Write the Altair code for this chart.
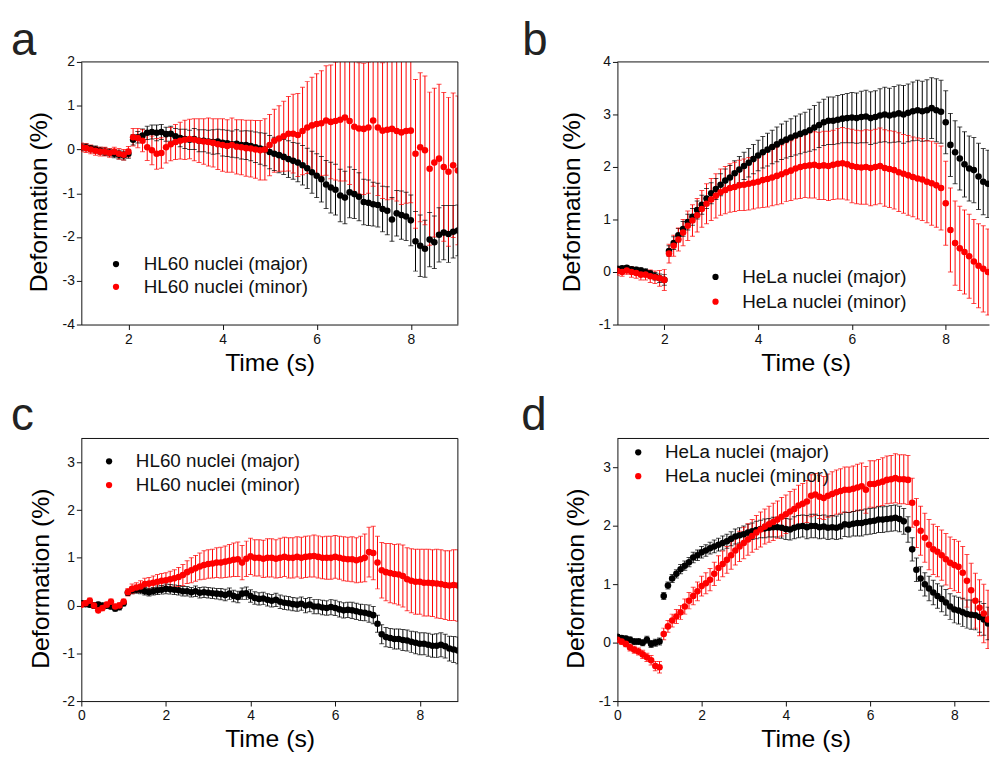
import altair as alt
import pandas as pd

FONT = "Liberation Sans"
STEP = 0.1

# ---------------- panel a : HL60 (t from 1.0 s) ----------------
A_T0 = 1.0
A_MAJOR = [0.05,0.05,0.02,0.0,-0.03,-0.05,-0.07,-0.1,-0.12,-0.14,-0.1,
           0.22,0.28,0.32,0.38,0.4,0.38,0.4,0.35,0.36,0.3,
           0.26,0.24,0.22,0.24,0.2,0.2,0.18,0.17,0.18,0.15,
           0.14,0.12,0.13,0.1,0.1,0.08,0.05,0.02,0.0,-0.06,
           -0.1,-0.13,-0.17,-0.22,-0.26,-0.3,-0.36,-0.43,-0.52,-0.6,
           -0.68,-0.8,-0.87,-0.92,-1.05,-1.1,-0.98,-1.02,-1.08,-1.2,
           -1.22,-1.25,-1.27,-1.36,-1.4,-1.6,-1.46,-1.5,-1.53,-1.62,
           -2.1,-2.2,-2.27,-2.06,-2.12,-1.95,-1.9,-1.93,-1.88,-1.85]
A_MAJOR_ERR = [0.08,0.08,0.07,0.08,0.08,0.09,0.08,0.09,0.1,0.1,0.1,
               0.12,0.13,0.15,0.15,0.16,0.18,0.17,0.16,0.17,0.18,
               0.2,0.22,0.22,0.24,0.25,0.25,0.26,0.28,0.28,0.3,
               0.3,0.3,0.32,0.32,0.33,0.34,0.35,0.36,0.37,0.38,
               0.38,0.4,0.4,0.42,0.42,0.44,0.45,0.46,0.48,0.5,
               0.52,0.55,0.58,0.58,0.6,0.6,0.58,0.56,0.55,0.52,
               0.52,0.5,0.5,0.52,0.55,0.5,0.52,0.55,0.55,0.58,
               0.68,0.7,0.65,0.62,0.6,0.62,0.62,0.65,0.6,0.58]
A_MINOR = [0.05,0.03,0.0,-0.03,-0.05,-0.05,-0.08,-0.05,-0.1,-0.12,-0.05,
           0.28,0.26,0.2,0.05,-0.02,-0.1,-0.08,0.05,0.12,0.17,
           0.2,0.22,0.24,0.22,0.2,0.18,0.17,0.15,0.12,0.1,
           0.08,0.1,0.06,0.05,0.03,0.02,0.0,-0.02,0.0,0.1,
           0.2,0.25,0.3,0.36,0.36,0.33,0.42,0.5,0.55,0.58,
           0.6,0.66,0.63,0.65,0.68,0.73,0.65,0.52,0.48,0.47,
           0.5,0.66,0.5,0.43,0.45,0.47,0.42,0.39,0.42,0.43,
           -0.1,0.05,-0.02,-0.44,-0.3,-0.21,-0.4,-0.51,-0.36,-0.48]
A_MINOR_ERR = [0.1,0.1,0.1,0.1,0.1,0.1,0.1,0.1,0.12,0.12,0.12,
               0.2,0.22,0.25,0.3,0.33,0.35,0.35,0.36,0.38,0.4,
               0.42,0.45,0.45,0.48,0.5,0.52,0.55,0.55,0.58,0.6,
               0.6,0.62,0.62,0.63,0.64,0.65,0.66,0.68,0.7,0.7,
               0.72,0.75,0.8,0.85,0.9,0.95,1.0,1.05,1.1,1.15,
               1.2,1.25,1.3,1.35,1.4,1.45,1.45,1.5,1.5,1.5,
               1.5,1.5,1.55,1.55,1.6,1.6,1.6,1.65,1.65,1.65,
               1.7,1.7,1.7,1.75,1.7,1.7,1.7,1.7,1.65,1.7]

# ---------------- panel b : HeLa (t from 1.0 s) ----------------
B_T0 = 1.0
B_MAJOR = [0.06,0.07,0.08,0.05,0.04,0.03,0.0,-0.03,-0.08,-0.12,-0.15,
           0.4,0.55,0.7,0.82,0.95,1.05,1.18,1.28,1.4,1.5,
           1.58,1.66,1.74,1.8,1.88,1.95,2.02,2.08,2.15,2.22,
           2.28,2.33,2.38,2.43,2.48,2.52,2.56,2.6,2.63,2.66,
           2.7,2.75,2.8,2.85,2.88,2.88,2.9,2.92,2.93,2.94,
           2.93,2.95,2.96,2.93,2.95,2.98,3.0,2.98,3.0,3.02,
           3.0,3.03,3.06,3.08,3.06,3.08,3.12,3.08,3.05,2.85,
           2.42,2.28,2.16,2.05,1.97,1.94,1.82,1.72,1.68]
B_MAJOR_ERR = [0.04,0.04,0.04,0.05,0.05,0.05,0.06,0.06,0.07,0.08,0.1,
               0.1,0.12,0.13,0.14,0.15,0.16,0.17,0.18,0.19,0.2,
               0.2,0.21,0.22,0.23,0.24,0.25,0.26,0.27,0.28,0.29,
               0.3,0.31,0.32,0.33,0.34,0.35,0.36,0.37,0.38,0.38,
               0.4,0.42,0.43,0.44,0.45,0.45,0.46,0.46,0.47,0.48,
               0.48,0.49,0.5,0.5,0.5,0.51,0.52,0.52,0.53,0.54,
               0.55,0.55,0.56,0.57,0.57,0.58,0.58,0.6,0.6,0.6,
               0.6,0.6,0.6,0.62,0.62,0.62,0.63,0.63,0.64]
B_MINOR = [0.02,0.0,0.03,0.0,-0.02,-0.05,-0.05,-0.08,-0.1,-0.12,-0.15,
           0.35,0.5,0.62,0.75,0.88,0.98,1.08,1.2,1.3,1.38,
           1.45,1.52,1.56,1.6,1.62,1.65,1.66,1.68,1.7,1.72,
           1.75,1.77,1.8,1.83,1.86,1.9,1.93,1.97,2.0,2.02,
           2.03,2.04,2.02,2.03,2.02,2.04,2.06,2.07,2.05,2.02,
           2.0,1.99,2.0,1.98,2.0,2.02,1.98,1.96,1.94,1.9,
           1.87,1.84,1.81,1.78,1.76,1.72,1.69,1.65,1.6,1.31,
           0.8,0.55,0.45,0.38,0.3,0.2,0.12,0.06,0.0]
B_MINOR_ERR = [0.08,0.08,0.08,0.1,0.1,0.1,0.1,0.12,0.12,0.15,0.2,
               0.18,0.2,0.22,0.25,0.28,0.3,0.32,0.35,0.38,0.4,
               0.42,0.44,0.45,0.46,0.47,0.48,0.49,0.5,0.5,0.5,
               0.52,0.53,0.54,0.55,0.56,0.56,0.57,0.58,0.6,0.6,
               0.62,0.63,0.64,0.65,0.66,0.66,0.67,0.68,0.68,0.7,
               0.7,0.7,0.71,0.72,0.72,0.72,0.73,0.73,0.74,0.75,
               0.75,0.76,0.76,0.77,0.78,0.78,0.8,0.8,0.8,0.8,
               0.8,0.8,0.8,0.8,0.8,0.8,0.8,0.82,0.82]

# ---------------- panel c : HL60 (t from 0 s) ----------------
C_T0 = 0.0
C_MAJOR = [0.05,0.03,0.02,0.0,0.02,0.0,0.0,-0.02,-0.06,-0.03,0.05,
           0.27,0.32,0.33,0.33,0.3,0.28,0.3,0.32,0.33,0.35,
           0.34,0.33,0.32,0.3,0.3,0.28,0.3,0.27,0.28,0.27,
           0.26,0.25,0.24,0.22,0.25,0.2,0.18,0.25,0.26,0.2,
           0.16,0.14,0.15,0.12,0.1,0.12,0.08,0.06,0.05,0.03,
           0.02,0.04,0.0,0.02,-0.02,-0.02,-0.04,-0.05,-0.03,-0.05,
           -0.08,-0.1,-0.09,-0.1,-0.12,-0.14,-0.15,-0.17,-0.2,-0.38,
           -0.6,-0.66,-0.68,-0.7,-0.7,-0.72,-0.73,-0.76,-0.78,-0.8,
           -0.8,-0.82,-0.84,-0.84,-0.82,-0.85,-0.9,-0.92,-0.94]
C_MAJOR_ERR = [0.05,0.05,0.05,0.06,0.05,0.05,0.06,0.05,0.06,0.06,0.06,
               0.06,0.07,0.07,0.08,0.08,0.08,0.08,0.09,0.09,0.1,
               0.1,0.1,0.1,0.1,0.1,0.1,0.11,0.11,0.11,0.11,
               0.11,0.11,0.12,0.12,0.12,0.12,0.12,0.12,0.13,0.13,
               0.13,0.13,0.13,0.13,0.13,0.14,0.14,0.14,0.14,0.14,
               0.14,0.14,0.15,0.15,0.15,0.15,0.15,0.15,0.16,0.16,
               0.16,0.16,0.16,0.17,0.17,0.17,0.17,0.18,0.18,0.18,
               0.2,0.2,0.2,0.21,0.21,0.22,0.22,0.22,0.23,0.23,
               0.23,0.24,0.24,0.25,0.25,0.25,0.26,0.27,0.28]
C_MINOR = [0.02,0.05,0.1,0.0,-0.1,-0.05,0.02,0.08,-0.02,0.0,0.08,
           0.28,0.35,0.38,0.4,0.45,0.46,0.48,0.5,0.52,0.53,
           0.55,0.57,0.6,0.64,0.7,0.74,0.78,0.82,0.85,0.87,
           0.88,0.9,0.9,0.92,0.94,0.96,0.97,0.9,0.98,1.03,
           1.0,1.0,0.98,1.0,1.0,0.98,1.0,1.02,1.0,1.0,
           1.02,1.0,1.02,1.03,1.04,1.02,1.0,1.0,1.0,1.02,
           1.0,0.98,0.97,0.97,0.95,0.97,1.0,1.12,1.1,0.9,
           0.74,0.7,0.68,0.66,0.65,0.62,0.55,0.52,0.5,0.5,
           0.48,0.48,0.47,0.46,0.45,0.43,0.42,0.43,0.42]
C_MINOR_ERR = [0.05,0.05,0.06,0.06,0.05,0.06,0.05,0.06,0.05,0.06,0.06,
               0.08,0.1,0.1,0.12,0.12,0.13,0.14,0.15,0.15,0.16,
               0.17,0.18,0.2,0.22,0.24,0.26,0.27,0.28,0.3,0.3,
               0.3,0.31,0.32,0.33,0.34,0.35,0.36,0.36,0.37,0.38,
               0.38,0.38,0.39,0.4,0.4,0.4,0.41,0.41,0.42,0.42,
               0.42,0.43,0.43,0.43,0.44,0.44,0.44,0.45,0.45,0.45,
               0.45,0.46,0.46,0.47,0.47,0.48,0.5,0.52,0.56,0.55,
               0.58,0.6,0.62,0.62,0.64,0.65,0.66,0.67,0.68,0.68,
               0.7,0.7,0.7,0.72,0.72,0.72,0.73,0.74,0.75]

# ---------------- panel d : HeLa (t from 0 s) ----------------
D_T0 = 0.0
D_MAJOR = [0.1,0.08,0.07,0.05,0.02,0.02,0.0,0.05,-0.02,0.0,0.02,
           0.8,0.98,1.1,1.18,1.26,1.32,1.38,1.46,1.5,1.55,
           1.58,1.62,1.65,1.68,1.71,1.74,1.78,1.82,1.84,1.86,
           1.89,1.91,1.93,1.95,1.96,1.97,1.98,1.98,1.97,1.95,
           1.94,1.97,1.99,2.0,1.98,2.0,2.0,1.98,1.99,1.97,
           1.98,1.97,1.99,2.03,2.02,2.04,2.05,2.05,2.07,2.08,
           2.09,2.11,2.11,2.12,2.13,2.14,2.12,2.08,1.94,1.6,
           1.25,1.1,1.0,0.93,0.86,0.8,0.75,0.69,0.62,0.57,
           0.55,0.52,0.49,0.48,0.47,0.44,0.4,0.33]
D_MAJOR_ERR = [0.04,0.04,0.04,0.05,0.05,0.05,0.05,0.06,0.06,0.06,0.06,
               0.06,0.06,0.07,0.07,0.08,0.08,0.08,0.09,0.09,0.1,
               0.1,0.1,0.11,0.11,0.12,0.12,0.12,0.13,0.13,0.14,
               0.14,0.14,0.15,0.15,0.16,0.16,0.17,0.17,0.18,0.18,
               0.18,0.19,0.19,0.19,0.2,0.2,0.2,0.2,0.2,0.2,
               0.2,0.2,0.21,0.21,0.21,0.21,0.22,0.22,0.22,0.22,
               0.22,0.22,0.22,0.22,0.22,0.22,0.22,0.22,0.22,0.2,
               0.2,0.2,0.2,0.21,0.21,0.21,0.22,0.22,0.22,0.23,
               0.23,0.24,0.24,0.25,0.25,0.26,0.27,0.28]
D_MINOR = [0.05,0.02,-0.02,-0.08,-0.12,-0.15,-0.2,-0.25,-0.3,-0.4,-0.42,
           0.15,0.28,0.38,0.45,0.52,0.62,0.72,0.8,0.88,0.97,
           1.02,1.08,1.18,1.28,1.35,1.42,1.5,1.58,1.65,1.71,
           1.77,1.83,1.89,1.94,1.99,2.03,2.07,2.11,2.16,2.2,
           2.25,2.29,2.35,2.38,2.42,2.52,2.54,2.5,2.48,2.52,
           2.55,2.58,2.6,2.62,2.62,2.64,2.66,2.68,2.62,2.72,
           2.72,2.74,2.76,2.79,2.8,2.82,2.8,2.8,2.79,2.4,
           2.05,1.92,1.8,1.68,1.6,1.56,1.5,1.43,1.37,1.33,
           1.3,1.2,1.06,0.9,0.72,0.6,0.5,0.4]
D_MINOR_ERR = [0.05,0.05,0.05,0.06,0.06,0.06,0.07,0.07,0.08,0.08,0.1,
               0.1,0.1,0.11,0.12,0.12,0.13,0.14,0.15,0.16,0.17,
               0.18,0.19,0.2,0.21,0.22,0.23,0.24,0.25,0.26,0.27,
               0.27,0.28,0.29,0.3,0.3,0.31,0.32,0.32,0.33,0.33,
               0.34,0.34,0.35,0.35,0.36,0.36,0.36,0.37,0.37,0.37,
               0.38,0.38,0.38,0.39,0.39,0.39,0.4,0.4,0.4,0.4,
               0.4,0.4,0.41,0.41,0.41,0.42,0.42,0.42,0.42,0.42,
               0.42,0.42,0.42,0.43,0.43,0.43,0.43,0.44,0.44,0.44,
               0.44,0.45,0.45,0.46,0.47,0.48,0.5,0.5]

HL60_LABELS = ["HL60 nuclei (major)", "HL60 nuclei (minor)"]
HELA_LABELS = ["HeLa nuclei (major)", "HeLa nuclei (minor)"]
SERIES = ["major", "minor"]
COLORS = ["#000000", "#ff0000"]


def frame(t0, vals, errs, name):
    n = len(vals)
    return pd.DataFrame({
        "t": [round(t0 + STEP * i, 3) for i in range(n)],
        "v": vals,
        "lo": [v - e for v, e in zip(vals, errs)],
        "hi": [v + e for v, e in zip(vals, errs)],
        "s": [name] * n,
    })


def one_row(text):
    return alt.Chart(pd.DataFrame({"label": [text]}))


def panel(df, letter, letter_xy, xdom, xvals, ydom, yvals, w, h, labels,
          leg_dot_x, leg_text_x, leg_rows, ytitle_x, right_border):
    xs = alt.Scale(domain=xdom, nice=False, zero=False)
    ys = alt.Scale(domain=ydom, nice=False, zero=False)
    xax = alt.Axis(values=xvals, title="Time (s)", grid=False,
                   labelFont=FONT, labelFontSize=14, labelColor="#111",
                   labelExpr="toString(datum.value)", labelFlush=False,
                   labelOverlap=False, labelPadding=3,
                   tickSize=5, tickColor="#111", domainColor="#111",
                   titleFont=FONT, titleFontSize=25, titleFontWeight="normal",
                   titleColor="#000", titleBaseline="top", titleX=190, titleY=26)
    yax = alt.Axis(values=yvals, title="Deformation (%)", grid=False,
                   labelFont=FONT, labelFontSize=14, labelColor="#111",
                   labelExpr="toString(datum.value)", labelFlush=False,
                   labelOverlap=False, labelPadding=2,
                   tickSize=5, tickColor="#111", domainColor="#111",
                   titleFont=FONT, titleFontSize=25, titleFontWeight="normal",
                   titleColor="#000", titleAngle=270, titleAlign="center",
                   titleBaseline="bottom", titleX=ytitle_x, titleY=141)
    col = alt.Color("s:N", scale=alt.Scale(domain=SERIES, range=COLORS), legend=None)
    X = alt.X("t:Q", scale=xs, axis=xax)
    base = alt.Chart(df)
    bars = base.mark_rule(strokeWidth=1, clip=True).encode(
        x=X, y=alt.Y("lo:Q", scale=ys, axis=yax), y2="hi:Q", color=col)
    cap_lo = base.mark_tick(orient="horizontal", size=5, thickness=1, clip=True).encode(
        x=X, y=alt.Y("lo:Q", scale=ys, axis=yax), color=col)
    cap_hi = base.mark_tick(orient="horizontal", size=5, thickness=1, clip=True).encode(
        x=X, y=alt.Y("hi:Q", scale=ys, axis=yax), color=col)
    pts = base.mark_circle(size=44, opacity=1, clip=True).encode(
        x=X, y=alt.Y("v:Q", scale=ys, axis=yax), color=col)

    layers = [bars, cap_lo, cap_hi, pts]
    for lab, c, yr in zip(labels, COLORS, leg_rows):
        layers.append(one_row(lab).mark_circle(size=40, color=c, opacity=1).encode(
            x=alt.value(leg_dot_x), y=alt.value(yr)))
        layers.append(one_row(lab).mark_text(align="left", baseline="middle", font=FONT,
                                             fontSize=19, color="#111").encode(
            x=alt.value(leg_text_x), y=alt.value(yr), text="label:N"))
    layers.append(one_row(letter).mark_text(align="left", baseline="alphabetic", font=FONT,
                                            fontSize=46, color="#222").encode(
        x=alt.value(letter_xy[0]), y=alt.value(letter_xy[1]), text="label:N"))
    # frame: top (and right where visible)
    layers.append(one_row("top").mark_rule(color="#111", strokeWidth=1).encode(
        x=alt.value(0), x2=alt.value(w), y=alt.value(0)))
    if right_border:
        layers.append(one_row("right").mark_rule(color="#111", strokeWidth=1).encode(
            x=alt.value(w), y=alt.value(0), y2=alt.value(h)))
    return alt.layer(*layers).properties(width=w, height=h)


df_a = pd.concat([frame(A_T0, A_MAJOR, A_MAJOR_ERR, "major"),
                  frame(A_T0, A_MINOR, A_MINOR_ERR, "minor")], ignore_index=True)
df_b = pd.concat([frame(B_T0, B_MAJOR, B_MAJOR_ERR, "major"),
                  frame(B_T0, B_MINOR, B_MINOR_ERR, "minor")], ignore_index=True)
df_c = pd.concat([frame(C_T0, C_MAJOR, C_MAJOR_ERR, "major"),
                  frame(C_T0, C_MINOR, C_MINOR_ERR, "minor")], ignore_index=True)
df_d = pd.concat([frame(D_T0, D_MAJOR, D_MAJOR_ERR, "major"),
                  frame(D_T0, D_MINOR, D_MINOR_ERR, "minor")], ignore_index=True)

pa = panel(df_a, "a", (-71, -7), [1, 9], [2, 4, 6, 8], [-4, 2], [-4, -3, -2, -1, 0, 1, 2],
           380, 265, HL60_LABELS, 35, 63, [204, 227], -30, True)
pb = panel(df_b, "b", (-96, -7), [1, 8.923], [2, 4, 6, 8], [-1, 4], [-1, 0, 1, 2, 3, 4],
           375, 265, HELA_LABELS, 99, 126, [217, 242], -33, False)
pc = panel(df_c, "c", (-71, -9), [0, 8.9], [0, 2, 4, 6, 8], [-2, 3.5], [-2, -1, 0, 1, 2, 3],
           380, 265, HL60_LABELS, 28, 55, [23, 47], -28.5, True)
pd_ = panel(df_d, "d", (-97, -9), [0, 8.824], [0, 2, 4, 6, 8], [-1, 3.5], [-1, 0, 1, 2, 3],
            375, 265, HELA_LABELS, 21, 48, [14, 38], -29, False)

chart = alt.concat(pa, pb, pc, pd_, columns=2, spacing={"row": 115, "column": 161},
                   bounds="flush").properties(
    padding={"left": 3, "top": 7, "right": 0, "bottom": 0}
).configure_view(strokeWidth=0)

chart.save("out.html", embed_options={"renderer": "svg", "actions": False})
